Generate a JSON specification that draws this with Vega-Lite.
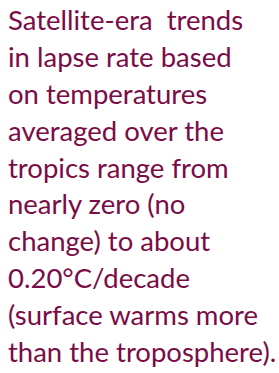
{
  "$schema": "https://vega.github.io/schema/vega-lite/v6.json",
  "width": 279,
  "height": 373,
  "autosize": {"type": "fit", "contains": "padding"},
  "padding": 0,
  "background": "white",
  "view": {"stroke": null},
  "data": {"values": [
    {"line": 1, "text": "Satellite-era\u00a0 trends"},
    {"line": 2, "text": "in lapse rate based"},
    {"line": 3, "text": "on temperatures"},
    {"line": 4, "text": "averaged over the"},
    {"line": 5, "text": "tropics range from"},
    {"line": 6, "text": "nearly zero (no"},
    {"line": 7, "text": "change) to about"},
    {"line": 8, "text": "0.20°C/decade"},
    {"line": 9, "text": "(surface warms more"},
    {"line": 10, "text": "than the troposphere)."}
  ]},
  "mark": {"type": "text", "align": "left", "baseline": "alphabetic", "font": "Lato", "fontSize": 27.5, "color": "#7a0c46", "x": 8},
  "encoding": {
    "y": {"field": "line", "type": "quantitative", "scale": {"domain": [0, 10], "range": [-6.9, 362]}, "axis": null},
    "text": {"field": "text"}
  }
}
